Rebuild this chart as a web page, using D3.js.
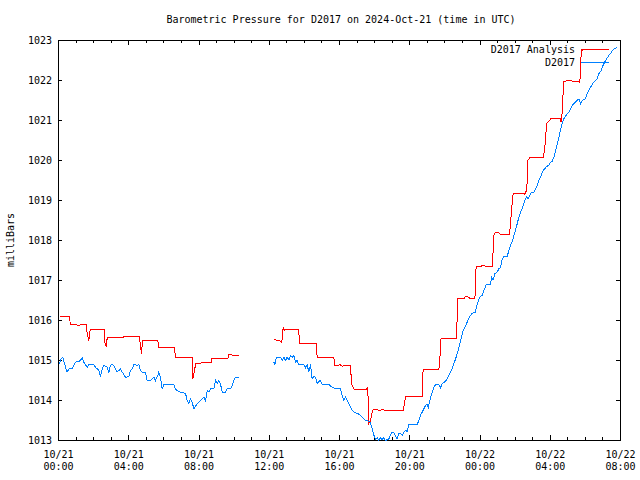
<!DOCTYPE html>
<html><head><meta charset="utf-8">
<script src="https://cdn.jsdelivr.net/npm/d3@7"></script>
<style>
body{margin:0;background:#fff}
svg{display:block}
text{font-family:"DejaVu Sans Mono",monospace;font-size:10px;fill:#000}
</style>
</head><body>
<svg id="c" width="640" height="480"></svg>
<script>
// ---- data (hours since 2024-10-21 00:00 UTC; null marks a data gap) ----
const analysisHours = [0.06,0.65,0.66,1.03,1.06,1.25,1.59,1.63,1.73,1.77,1.82,2.62,2.64,2.73,2.77,3.68,3.70,4.63,4.65,4.73,4.78,5.66,5.69,6.61,6.66,7.61,7.65,7.74,7.82,8.69,8.71,9.64,9.70,10.27,
  null,
  12.26,12.60,12.68,12.74,12.79,12.87,12.93,13.68,13.72,14.67,14.73,15.68,15.72,15.91,16.02,16.15,16.63,16.68,16.78,16.85,17.54,17.61,17.67,17.77,17.86,17.92,18.15,18.24,18.43,18.71,19.63,19.66,19.76,20.71,20.73,20.76,21.66,21.69,21.75,21.78,22.66,22.70,22.74,23.08,23.18,23.36,23.46,23.71,23.74,23.78,24.03,24.22,24.31,24.69,24.73,24.79,24.88,25.07,25.17,25.68,25.74,25.79,25.89,26.50,26.53,26.65,26.69,26.72,26.84,27.60,27.64,27.73,27.79,27.86,27.98,28.02,28.58,28.62,28.68,28.74,28.77,29.06,29.69,29.72,29.78,29.90];
const analysisPressure = [1016.10,1016.10,1015.89,1015.89,1015.88,1015.89,1015.89,1015.67,1015.50,1015.71,1015.77,1015.77,1015.46,1015.33,1015.57,1015.57,1015.60,1015.60,1015.38,1015.17,1015.50,1015.50,1015.32,1015.32,1015.07,1015.07,1014.54,1014.75,1014.93,1014.95,1015.04,1015.04,1015.14,1015.13,
  null,
  1015.52,1015.50,1015.46,1015.52,1015.82,1015.75,1015.77,1015.77,1015.42,1015.42,1015.07,1015.07,1014.88,1014.88,1014.90,1014.86,1014.88,1014.43,1014.32,1014.28,1014.28,1014.33,1013.42,1013.50,1013.71,1013.77,1013.77,1013.75,1013.77,1013.75,1013.75,1013.83,1014.10,1014.10,1014.43,1014.77,1014.77,1014.93,1015.25,1015.55,1015.55,1016.07,1016.54,1016.54,1016.60,1016.58,1016.54,1016.54,1016.92,1017.35,1017.35,1017.39,1017.36,1017.36,1017.58,1018.13,1018.21,1018.19,1018.15,1018.15,1018.42,1018.75,1019.17,1019.18,1019.15,1019.25,1019.50,1020.00,1020.07,1020.07,1020.17,1020.50,1020.93,1020.96,1021.00,1021.04,1021.04,1020.96,1021.21,1021.75,1021.98,1022.00,1021.96,1022.42,1022.75,1022.77];

const stationHours = [0.06,0.15,0.25,0.34,0.49,0.59,0.78,0.87,0.97,1.16,1.25,1.35,1.44,1.63,1.73,2.01,2.11,2.30,2.39,2.49,2.58,2.77,2.87,2.96,3.06,3.15,3.34,3.53,3.63,3.82,4.01,4.10,4.20,4.29,4.48,4.57,4.67,4.76,4.95,5.05,5.24,5.43,5.52,5.66,5.71,5.81,5.90,6.00,6.57,6.66,6.76,6.95,7.23,7.33,7.42,7.52,7.61,7.71,7.80,7.90,8.09,8.28,8.37,8.47,8.56,8.66,8.85,8.94,9.04,9.13,9.22,9.32,9.51,9.60,9.79,9.89,9.98,10.08,10.27,
  null,
  12.26,12.32,12.41,12.64,12.74,12.83,12.93,13.02,13.12,13.21,13.31,13.40,13.50,13.59,13.68,13.97,14.06,14.16,14.25,14.35,14.44,14.54,14.63,14.73,14.82,14.92,15.01,15.39,15.49,15.68,16.06,16.15,16.25,16.34,16.53,16.72,16.82,17.01,17.20,17.39,17.48,17.73,17.86,17.96,18.05,18.15,18.24,18.34,18.43,18.52,18.62,18.81,18.90,19.00,19.09,19.19,19.28,19.38,19.47,19.57,19.66,19.76,19.85,19.95,20.42,20.52,20.61,20.71,20.80,20.90,20.99,21.05,21.14,21.28,21.37,21.47,21.66,21.75,21.85,22.04,22.13,22.32,22.42,22.51,22.61,22.70,22.76,22.90,23.04,23.14,23.27,23.42,23.55,23.74,23.84,23.99,24.12,24.26,24.35,24.60,24.66,24.75,24.85,24.98,25.07,25.17,25.26,25.36,25.55,25.64,25.74,25.83,25.93,26.02,26.12,26.21,26.31,26.40,26.50,26.59,26.65,26.74,26.84,26.93,27.07,27.16,27.26,27.35,27.45,27.54,27.64,27.79,27.92,28.02,28.11,28.21,28.30,28.40,28.49,28.58,28.68,28.77,28.96,29.06,29.15,29.25,29.34,29.53,29.63,29.72,29.82,30.01,30.10,30.20,30.29,30.48,30.67,30.77,30.90,31.01,31.15,31.34,31.43,31.53,31.62,31.81];
const stationPressure = [1014.92,1015.04,1015.08,1014.92,1014.71,1014.79,1014.79,1014.88,1014.96,1014.98,1015.00,1015.08,1014.96,1014.83,1014.90,1014.90,1014.83,1014.75,1014.60,1014.79,1014.88,1014.83,1014.71,1014.88,1014.90,1014.88,1014.71,1014.79,1014.71,1014.58,1014.60,1014.75,1014.79,1014.90,1014.88,1014.90,1014.75,1014.71,1014.71,1014.50,1014.50,1014.58,1014.50,1014.63,1014.71,1014.58,1014.29,1014.40,1014.40,1014.29,1014.25,1014.21,1014.18,1014.00,1013.92,1014.04,1013.96,1013.79,1013.85,1013.92,1014.00,1014.08,1014.00,1014.25,1014.21,1014.29,1014.29,1014.50,1014.42,1014.50,1014.42,1014.21,1014.21,1014.29,1014.29,1014.38,1014.50,1014.58,1014.58,
  null,
  1014.96,1014.90,1015.08,1015.08,1015.00,1015.08,1015.00,1015.08,1015.02,1015.13,1015.08,1015.13,1014.96,1015.00,1014.90,1014.90,1014.82,1014.90,1014.71,1014.90,1014.54,1014.60,1014.58,1014.42,1014.48,1014.50,1014.40,1014.40,1014.36,1014.31,1014.29,1014.13,1014.00,1014.08,1013.92,1013.75,1013.71,1013.68,1013.63,1013.54,1013.50,1013.48,1013.29,1013.13,1013.02,1013.07,1013.00,1013.07,1013.02,1013.07,1013.00,1013.04,1013.13,1013.21,1013.21,1013.10,1013.04,1013.18,1013.17,1013.13,1013.21,1013.25,1013.23,1013.40,1013.40,1013.50,1013.63,1013.71,1013.79,1013.88,1013.90,1013.82,1014.00,1014.21,1014.33,1014.40,1014.40,1014.32,1014.42,1014.48,1014.54,1014.71,1014.79,1014.92,1015.04,1015.17,1015.25,1015.50,1015.75,1015.83,1015.96,1016.10,1016.18,1016.21,1016.42,1016.58,1016.63,1016.79,1016.89,1016.90,1017.08,1017.02,1017.17,1017.21,1017.29,1017.32,1017.54,1017.60,1017.60,1017.75,1017.88,1017.96,1018.13,1018.25,1018.42,1018.58,1018.71,1018.79,1018.92,1019.04,1019.10,1019.04,1019.13,1019.21,1019.21,1019.29,1019.38,1019.50,1019.58,1019.71,1019.77,1019.85,1019.88,1019.96,1019.98,1020.08,1020.25,1020.42,1020.58,1020.75,1020.92,1021.04,1021.17,1021.21,1021.29,1021.38,1021.42,1021.50,1021.54,1021.42,1021.50,1021.54,1021.67,1021.75,1021.83,1021.96,1022.04,1022.17,1022.25,1022.38,1022.50,1022.63,1022.67,1022.75,1022.79,1022.83];

const yTickValues = [1013,1014,1015,1016,1017,1018,1019,1020,1021,1022,1023];
const xMajorHours = [0,4,8,12,16,20,24,28,32];
const seriesNames = ["D2017 Analysis","D2017"];
const titleText = "Barometric Pressure for D2017 on 2024-Oct-21 (time in UTC)";
const yLabelText = "milliBars";

// ---- chart ----
const colors = ["#ff0000","#0080ff"];
const t0 = Date.UTC(2024, 9, 21, 0, 0);
const toDate = h => new Date(t0 + h * 3600e3);
const svg = d3.select("#c");
const L = 58, R = 620, T = 40, B = 440;

const x = d3.scaleUtc().domain([toDate(0), toDate(32)]).range([L, R]);
const y = d3.scaleLinear().domain([1013, 1023]).range([B, T]);

const majorDates = xMajorHours.map(toDate);
const minorDates = d3.range(0, 33).filter(h => h % 4 !== 0).map(toDate);

// minor ticks
svg.append("g").attr("transform", `translate(0,${B})`)
  .call(d3.axisBottom(x).tickValues(minorDates).tickSizeInner(-3).tickSizeOuter(0).tickFormat(""))
  .call(g => g.select(".domain").remove());
svg.append("g").attr("transform", `translate(0,${T})`)
  .call(d3.axisTop(x).tickValues(minorDates).tickSizeInner(-3).tickSizeOuter(0).tickFormat(""))
  .call(g => g.select(".domain").remove());

// major x ticks with two-line labels
const fmtD = d3.utcFormat("%m/%d"), fmtT = d3.utcFormat("%H:%M");
svg.append("g").attr("transform", `translate(0,${B})`)
  .call(d3.axisBottom(x).tickValues(majorDates).tickSizeInner(-5).tickSizeOuter(0).tickPadding(0))
  .call(g => g.select(".domain").remove())
  .call(g => g.selectAll(".tick text").each(function(d) {
      const t = d3.select(this).text(null).attr("dy", null).attr("y", null);
      t.append("tspan").attr("x", 0).attr("y", 18).text(fmtD(d));
      t.append("tspan").attr("x", 0).attr("y", 30).text(fmtT(d));
  }));
svg.append("g").attr("transform", `translate(0,${T})`)
  .call(d3.axisTop(x).tickValues(majorDates).tickSizeInner(-5).tickSizeOuter(0).tickFormat(""))
  .call(g => g.select(".domain").remove());

// y axes
svg.append("g").attr("transform", `translate(${L},0)`)
  .call(d3.axisLeft(y).tickValues(yTickValues).tickSizeInner(-4).tickSizeOuter(0).tickPadding(6).tickFormat(d3.format("d")))
  .call(g => g.select(".domain").remove());
svg.append("g").attr("transform", `translate(${R},0)`)
  .call(d3.axisRight(y).tickValues(yTickValues).tickSizeInner(-4).tickSizeOuter(0).tickFormat(""))
  .call(g => g.select(".domain").remove());

svg.selectAll(".tick line").attr("stroke", "#000").attr("shape-rendering", "crispEdges");
svg.selectAll(".tick text").attr("fill", "#000").attr("font-family", null).attr("font-size", null);

// border
svg.append("rect").attr("x", L + 0.5).attr("y", T + 0.5).attr("width", R - L).attr("height", B - T)
  .attr("fill", "none").attr("stroke", "#000").attr("shape-rendering", "crispEdges");

// series
function pts(hours, vals) {
  return hours.map((h, i) => ({t: h == null ? null : toDate(h), v: vals[i]}));
}
const line = d3.line().defined(d => d.v != null && d.t != null).x(d => x(d.t)).y(d => y(d.v));
const series = [pts(analysisHours, analysisPressure), pts(stationHours, stationPressure)];
const plot = svg.append("g").attr("transform", "translate(0.5,0.5)");
series.forEach((s, i) => {
  plot.append("path").datum(s).attr("d", line).attr("fill", "none")
    .attr("stroke", colors[i]).attr("stroke-width", 1).attr("shape-rendering", "crispEdges");
});

// legend
const lg = [53, 66], ly = [49.5, 62.5];
seriesNames.forEach((n, i) => {
  svg.append("text").attr("x", 575).attr("y", lg[i]).attr("text-anchor", "end").text(n);
  svg.append("line").attr("x1", 581).attr("x2", 609).attr("y1", ly[i]).attr("y2", ly[i])
    .attr("stroke", colors[i]).attr("shape-rendering", "crispEdges");
});

// title and axis label
svg.append("text").attr("x", 341).attr("y", 23).attr("text-anchor", "middle").text(titleText);
svg.append("text").attr("transform", "translate(14,240) rotate(-90)").attr("text-anchor", "middle").text(yLabelText);
</script>
</body></html>
